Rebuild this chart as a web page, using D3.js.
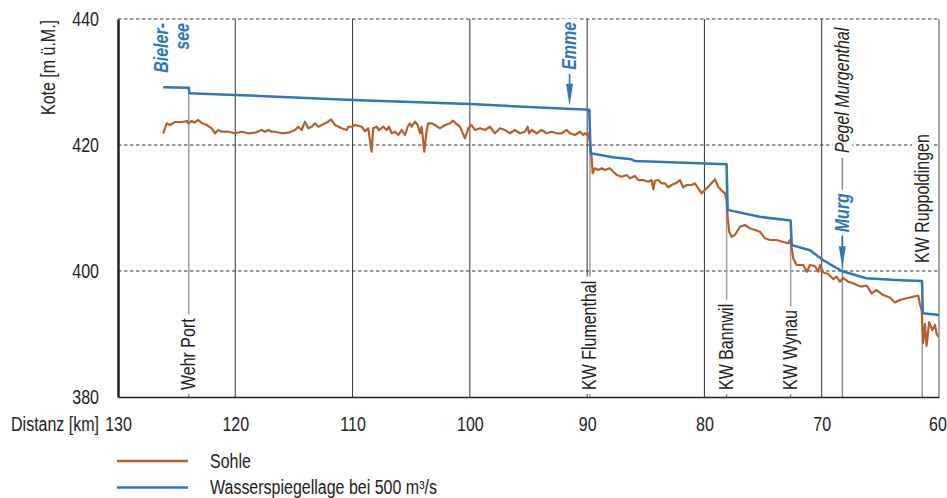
<!DOCTYPE html>
<html>
<head>
<meta charset="utf-8">
<script src="https://cdn.jsdelivr.net/npm/d3@7"></script>
<style>
  body { margin: 0; background: #fff; }
  svg text { font-family: 'Liberation Sans', Arial, sans-serif; font-size: 19.5px; fill: #222; }
</style>
</head>
<body>
<svg id="chart" width="947" height="498"></svg>
<script>
// Längenprofil Aare: Distanz in km, Koten in m ü.M.
const xTicks = [130, 120, 110, 100, 90, 80, 70, 60];
const yTicks = [380, 400, 420, 440];

// Wasserspiegellage bei 500 m3/s
const waterKm = [126.15, 123.97, 123.9, 120.0, 110.0, 100.0, 95.0, 89.82, 89.7, 87.8, 86.21, 85.93, 78.11, 78.02, 75.3, 72.65, 72.55, 71.0, 69.9, 68.3, 66.2, 63.3, 61.45, 61.38, 60.0];
const waterLevel = [429.15, 429.1, 428.2, 427.95, 427.15, 426.5, 426.05, 425.6, 418.7, 418.05, 417.73, 417.46, 416.95, 409.7, 408.6, 408.0, 404.1, 403.3, 401.75, 400.0, 398.85, 398.55, 398.4, 393.3, 393.0];

// Sohle
const bedKm = [126.14,125.85,125.57,125.14,124.54,124.12,124.00,123.72,123.50,123.15,122.86,122.44,122.01,121.73,121.45,121.16,120.60,120.03,119.45,118.89,118.32,117.75,117.47,117.19,116.90,116.62,116.04,115.48,114.91,114.63,114.34,114.06,113.78,113.49,113.21,112.92,112.63,112.07,111.84,111.50,110.93,110.50,110.37,110.08,109.80,109.22,108.94,108.66,108.38,108.24,107.95,107.75,107.38,107.09,106.90,106.67,106.39,106.10,105.81,105.53,105.30,105.11,104.96,104.68,104.45,104.25,104.11,103.89,103.68,103.55,103.26,102.98,102.55,102.12,101.70,101.42,101.21,100.84,100.42,100.14,99.85,99.57,99.14,98.71,98.29,97.86,97.43,97.01,96.58,96.16,95.73,95.30,95.07,94.96,94.73,94.31,93.88,93.45,93.03,92.60,92.17,91.75,91.47,91.04,90.61,90.33,90.19,90.04,89.91,89.76,89.62,89.53,89.34,89.05,88.76,88.48,88.06,87.78,87.48,87.06,86.63,86.35,85.93,85.64,85.22,84.79,84.50,84.36,84.22,83.94,83.65,83.37,83.09,82.80,82.37,82.09,81.81,81.52,81.09,80.81,80.53,80.24,79.96,79.53,79.10,78.82,78.53,78.25,78.11,78.02,77.89,77.68,77.40,76.97,76.55,76.12,75.70,75.27,74.84,74.42,73.85,73.28,72.86,72.71,72.57,72.43,72.14,71.58,71.26,71.01,70.58,70.30,70.15,69.87,69.45,69.02,68.73,68.45,68.17,67.74,67.31,67.03,66.60,66.17,65.75,65.32,64.76,64.19,63.76,63.33,62.76,62.20,61.77,61.63,61.48,61.35,61.20,61.06,60.84,60.57,60.35,60.21,60.05];
const bedLevel = [421.86,423.44,423.17,423.65,423.65,423.80,423.44,423.81,423.54,423.97,423.49,423.17,422.65,421.86,422.38,422.11,422.11,421.86,422.11,421.86,421.95,422.38,422.11,422.38,422.11,422.11,421.86,421.95,422.38,422.90,422.38,423.70,422.65,422.90,423.44,422.90,423.17,423.70,424.08,423.17,422.65,422.38,422.90,422.90,423.17,422.90,422.20,422.65,418.94,422.65,422.90,422.38,422.90,422.38,422.90,421.86,422.11,421.59,422.38,421.59,422.90,423.44,422.90,423.70,423.17,421.86,422.90,418.94,422.38,423.44,423.44,423.17,422.65,423.17,423.44,423.86,423.44,422.90,421.06,422.65,423.17,422.38,422.65,422.38,422.90,421.86,422.65,422.38,421.86,422.38,421.86,422.11,422.90,421.86,422.38,421.86,422.38,421.86,422.11,421.86,421.86,422.38,421.86,421.59,422.11,421.59,421.86,421.59,421.86,420.27,418.14,415.51,416.30,416.03,416.30,416.03,416.30,415.76,415.24,414.97,415.24,414.71,415.08,414.44,414.44,414.17,414.44,412.97,414.33,414.44,413.92,413.92,413.29,413.65,414.02,414.44,413.29,413.65,413.65,413.92,413.13,412.33,412.86,413.65,414.56,413.38,412.75,412.33,411.27,408.62,406.24,405.44,405.71,407.03,407.30,406.78,406.51,406.24,405.19,404.92,404.92,404.60,404.40,404.92,403.81,402.02,400.95,400.95,399.89,400.95,400.79,399.89,400.95,399.76,399.52,398.73,399.10,398.30,398.89,398.30,398.05,397.78,397.51,397.70,396.46,396.98,396.19,395.79,395.00,395.40,395.67,395.92,396.11,394.76,393.81,388.57,391.59,388.10,391.90,390.63,391.43,390.11,389.52];

// Bauwerke, Pegel und Zuflüsse
const structureNames = ["Wehr Port", "KW Flumenthal", "KW Bannwil", "KW Wynau", "KW Ruppoldingen"];
const structureKm = [123.97, 89.76, 78.11, 72.65, 61.43];
const gaugeName = "Pegel Murgenthal";
const gaugeKm = 68.24;
const tributaryNames = ["Emme", "Murg"];
const tributaryKm = [91.5, 68.24];
const lakeLines = ["Bieler-", "see"];
const legendLabels = ["Sohle", "Wasserspiegellage bei 500 m³/s"];

const BROWN = "#b5602b";
const BLUE = "#2e76bc";
const GRID = "#333";
const MARK = "#9c9c9c";
const NARROW = 0.82; // condensed lettering

const svg = d3.select("#chart");
const x = d3.scaleLinear().domain([130, 60]).range([118, 939]);
const y = d3.scaleLinear().domain([380, 440]).range([397, 19]);

const water = waterKm.map((k, i) => [k, waterLevel[i]]);
const bed = bedKm.map((k, i) => [k, bedLevel[i]]);
const waterAt = k => {
  const i = d3.bisector(d => -d[0]).left(water, -k);
  const a = water[Math.max(0, i - 1)], b = water[Math.min(water.length - 1, i)];
  if (a[0] === b[0]) return a[1];
  return a[1] + (b[1] - a[1]) * (k - a[0]) / (b[0] - a[0]);
};
// level just upstream of a structure (top of the step)
const upstreamLevel = k => {
  let v = water[0][1];
  water.forEach(d => { if (d[0] >= k - 0.02) v = d[1]; });
  return v;
};

// horizontal text, condensed
function hText(parent, tx, ty, txt, anchor, dy) {
  return parent.append("g").attr("transform", `translate(${tx},${ty}) scale(${NARROW},1)`)
    .append("text").attr("text-anchor", anchor || "start").attr("dy", dy || "0.35em").text(txt);
}

// dashed horizontal grid
svg.append("g").selectAll("line").data(yTicks.filter(v => v > 380)).join("line")
  .attr("x1", x(130)).attr("x2", x(60))
  .attr("y1", d => y(d)).attr("y2", d => y(d))
  .attr("stroke", GRID).attr("stroke-width", 1).attr("stroke-dasharray", "3.5,2.5");

// vertical grid
svg.append("g").selectAll("line").data(xTicks.filter(v => v < 130 && v > 60)).join("line")
  .attr("x1", d => x(d)).attr("x2", d => x(d))
  .attr("y1", y(440)).attr("y2", y(380))
  .attr("stroke", GRID).attr("stroke-width", 1);

// right frame
svg.append("line")
  .attr("x1", x(60)).attr("x2", x(60)).attr("y1", y(440)).attr("y2", y(380))
  .attr("stroke", "#888").attr("stroke-width", 1.5);

// structure marker lines
svg.append("g").selectAll("line").data(structureKm).join("line")
  .attr("x1", d => x(d)).attr("x2", d => x(d))
  .attr("y1", d => y(upstreamLevel(d))).attr("y2", y(380))
  .attr("stroke", MARK).attr("stroke-width", 1.5);

// gauge line
svg.append("line")
  .attr("x1", x(gaugeKm)).attr("x2", x(gaugeKm))
  .attr("y1", y(420) + 13).attr("y2", y(380))
  .attr("stroke", "#8a8a8a").attr("stroke-width", 1.5);

// rotated, condensed label with white backing
function vLabel(parent, tx, ty, txt, opts) {
  const g = parent.append("g")
    .attr("transform", `translate(${tx},${ty}) rotate(-90) scale(${NARROW},1)`);
  const bg = g.append("rect").attr("fill", "#fff");
  const t = g.append("text").attr("text-anchor", opts.anchor || "start")
    .attr("dy", opts.dy || "0.33em").text(txt);
  if (opts.italic) t.attr("font-style", "italic");
  if (opts.bold) t.attr("font-weight", "bold");
  if (opts.fill) t.style("fill", opts.fill);
  const b = t.node().getBBox();
  const p = (opts.pad == null ? 3 : opts.pad) / NARROW;
  bg.attr("x", b.x - p).attr("y", b.y + 1).attr("width", b.width + 2 * p).attr("height", b.height - 2);
  return g;
}

const labels = svg.append("g");
const labelBaseAbove = { "KW Ruppoldingen": 400 };
structureNames.forEach((name, i) => {
  const base = labelBaseAbove[name];
  const ty = base ? y(base) - 8 : y(380) - 7;
  vLabel(labels, x(structureKm[i]), ty, name, { pad: 4 });
});
vLabel(labels, x(gaugeKm), y(420) + 8, gaugeName, { italic: true, pad: 4 });

// data lines
const line = d3.line().x(d => x(d[0])).y(d => y(d[1]));
svg.append("path").datum(bed).attr("d", line)
  .attr("fill", "none").attr("stroke", BROWN).attr("stroke-width", 2.2)
  .attr("stroke-linejoin", "round");
svg.append("path").datum(water).attr("d", line)
  .attr("fill", "none").attr("stroke", BLUE).attr("stroke-width", 2.5)
  .attr("stroke-linejoin", "round");

// tributary arrows
tributaryNames.forEach((name, i) => {
  const k = tributaryKm[i];
  const tip = y(waterAt(k)) - 3;
  const top = tip - 32;
  const ax = x(k);
  svg.append("line").attr("x1", ax).attr("x2", ax).attr("y1", top).attr("y2", tip - 20)
    .attr("stroke", BLUE).attr("stroke-width", 1.6);
  svg.append("path")
    .attr("d", `M${ax - 3.5},${tip - 22}L${ax + 3.5},${tip - 22}L${ax},${tip}Z`)
    .attr("fill", BLUE);
  vLabel(svg, ax, top - 4, name, { italic: true, bold: true, fill: BLUE, pad: 3 });
});

// lake label
const lake = svg.append("g")
  .attr("transform", `translate(${x(125) - 9},23) rotate(-90) scale(${NARROW},1)`);
lake.append("text").attr("text-anchor", "end")
  .attr("font-style", "italic").attr("font-weight", "bold").style("fill", BLUE)
  .selectAll("tspan").data(lakeLines).join("tspan")
  .attr("x", 0).attr("y", (d, i) => i * 21).text(d => d);

// axes
const yAxis = svg.append("g").attr("transform", `translate(${x(130)},0)`)
  .call(d3.axisLeft(y).tickValues(yTicks).tickSize(0).tickPadding(19));
yAxis.select(".domain").attr("stroke", "#222").attr("stroke-width", 2.5);
yAxis.selectAll(".tick text").attr("x", -19 / NARROW).attr("transform", `scale(${NARROW},1)`);

const xAxis = svg.append("g").attr("transform", `translate(0,${y(380)})`)
  .call(d3.axisBottom(x).tickValues(xTicks).tickSize(0).tickPadding(20));
xAxis.select(".domain").attr("stroke", "#222").attr("stroke-width", 1.5);
xAxis.selectAll(".tick text").attr("transform", `scale(${NARROW},1)`)
  .attr("x", d => d === 60 ? -1.5 / NARROW : 0);
svg.selectAll(".tick text").attr("font-family", null).attr("font-size", null).style("fill", "#222");

hText(svg, 99, y(380) + 20, "Distanz [km]", "end", "0.71em");

svg.append("g").attr("transform", `translate(55,67.5) rotate(-90) scale(${NARROW},1)`)
  .append("text").attr("text-anchor", "middle").text("Kote [m ü.M.]");

// legend
const legend = svg.append("g");
[BROWN, BLUE].forEach((c, i) => {
  const ly = 461 + i * 26.5;
  legend.append("line").attr("x1", 117).attr("x2", 188).attr("y1", ly).attr("y2", ly)
    .attr("stroke", c).attr("stroke-width", 2.5);
  hText(legend, 210, ly, legendLabels[i], "start", "0.35em");
});
</script>
</body>
</html>
